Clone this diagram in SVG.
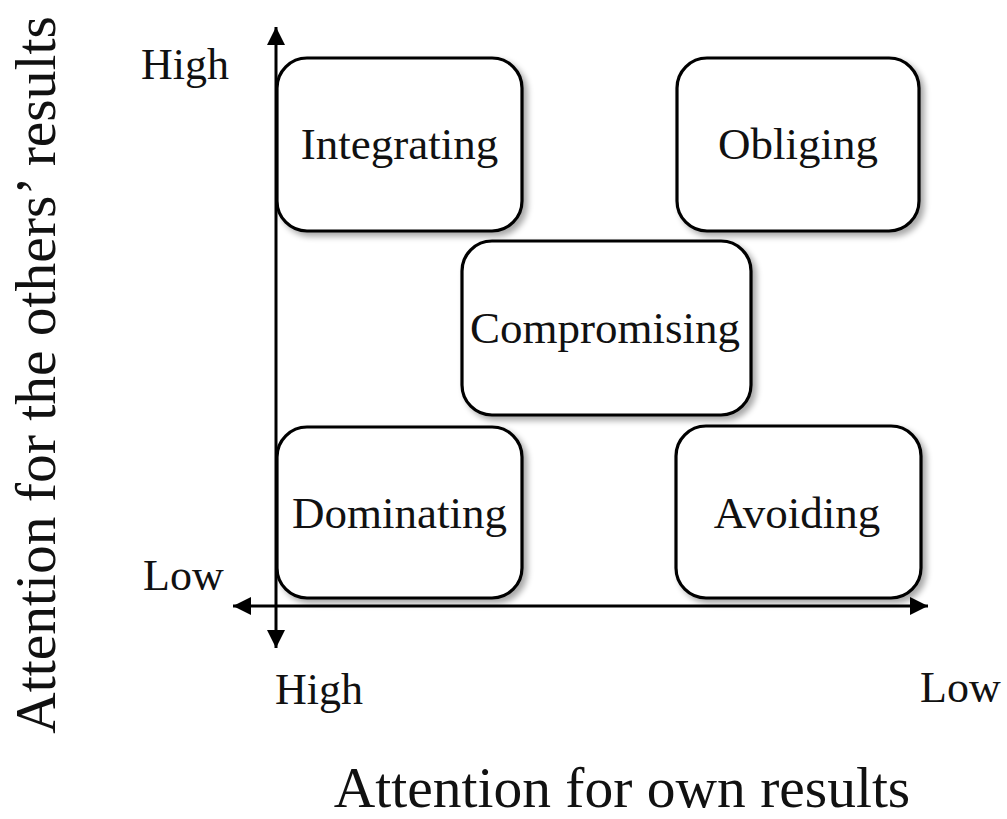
<svg xmlns="http://www.w3.org/2000/svg" width="1007" height="819" viewBox="0 0 1007 819">
<style>
  .box { fill: #ffffff; stroke: #000000; stroke-width: 3.2; filter: url(#shadow); }
  .lbl { font-family: "Liberation Serif", "Times New Roman", serif; font-size: 45px; fill: #111111; text-anchor: middle; }
  .tick { font-family: "Liberation Serif", "Times New Roman", serif; font-size: 44px; fill: #111111; }
  .title { font-family: "Liberation Serif", "Times New Roman", serif; font-size: 57.5px; fill: #111111; text-anchor: middle; }
  .axis { stroke: #000000; stroke-width: 3; fill: none; }
</style>
<defs>
  <filter id="shadow" x="-10%" y="-10%" width="125%" height="125%">
    <feGaussianBlur in="SourceAlpha" stdDeviation="3"/>
    <feOffset dx="4" dy="4" result="b"/>
    <feComponentTransfer><feFuncA type="linear" slope="0.35"/></feComponentTransfer>
    <feMerge><feMergeNode/><feMergeNode in="SourceGraphic"/></feMerge>
  </filter>
  <marker id="arrow" viewBox="0 0 18 18" refX="18" refY="9" markerWidth="18" markerHeight="18" markerUnits="userSpaceOnUse" orient="auto">
    <path d="M0,0 L18,9 L0,18 Z" fill="#000000"/>
  </marker>
</defs>
<rect width="1007" height="819" fill="#ffffff"/>

<g id="integrating">
  <rect class="box" x="277" y="58" width="245" height="173" rx="30" ry="30"/>
  <text class="lbl" x="399.5" y="159">Integrating</text>
</g>
<g id="obliging">
  <rect class="box" x="677" y="58" width="242" height="173" rx="30" ry="30"/>
  <text class="lbl" x="798" y="159">Obliging</text>
</g>
<g id="compromising">
  <rect class="box" x="462" y="241" width="289" height="174" rx="30" ry="30"/>
  <text class="lbl" x="605" y="343">Compromising</text>
</g>
<g id="dominating">
  <rect class="box" x="277" y="427" width="245" height="171" rx="30" ry="30"/>
  <text class="lbl" x="399.5" y="528">Dominating</text>
</g>
<g id="avoiding">
  <rect class="box" x="676" y="426" width="245" height="172" rx="30" ry="30"/>
  <text class="lbl" x="797" y="528">Avoiding</text>
</g>

<g id="connectors">
  <line class="axis" x1="276" y1="606" x2="276" y2="27" marker-end="url(#arrow)"/>
  <line class="axis" x1="276" y1="606" x2="276" y2="648" marker-end="url(#arrow)"/>
  <line class="axis" x1="276" y1="606" x2="233" y2="606" marker-end="url(#arrow)"/>
  <line class="axis" x1="276" y1="606" x2="928" y2="606" marker-end="url(#arrow)"/>
</g>

<g id="labels">
  <text class="tick" x="141" y="79">High</text>
  <text class="tick" x="143" y="590">Low</text>
  <text class="tick" x="275" y="704">High</text>
  <text class="tick" x="920" y="702">Low</text>
  <text class="title" x="622" y="807">Attention for own results</text>
  <text class="title" transform="translate(55,375) rotate(-90)" x="0" y="0">Attention for the others’ results</text>
</g>
</svg>
